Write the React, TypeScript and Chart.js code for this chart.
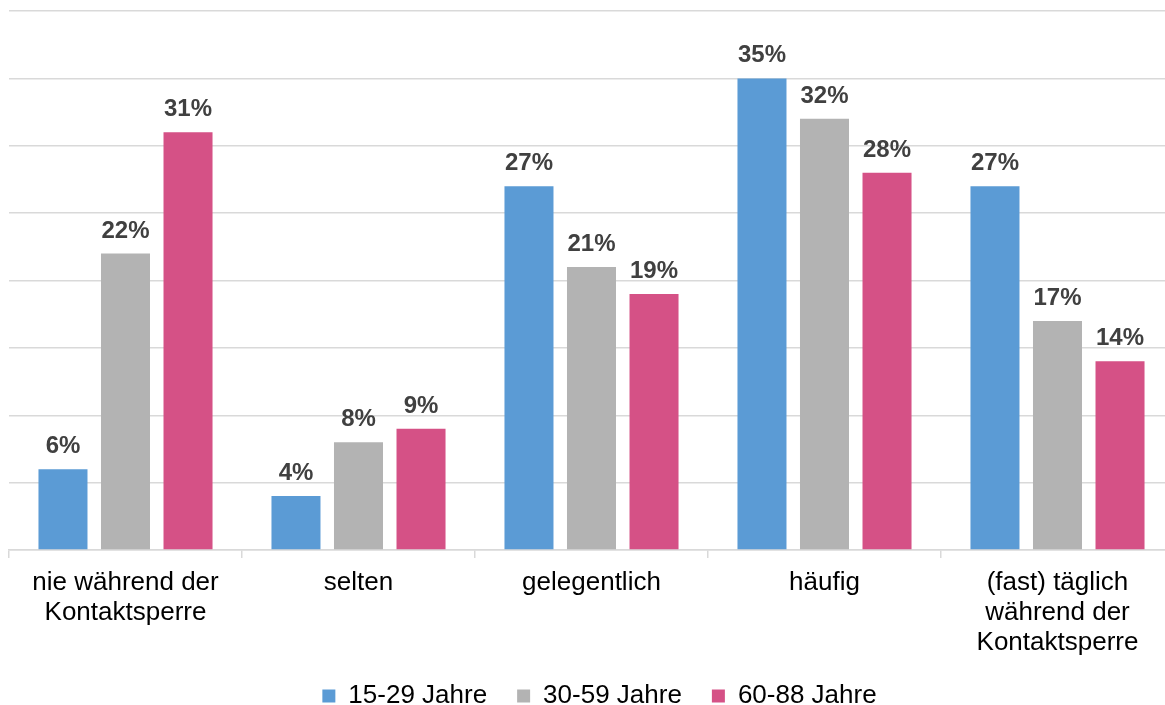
import React, { useEffect, useRef } from "react";
import { Chart, registerables } from "chart.js";

Chart.register(...registerables);

const categories: (string | string[])[] = [
  ["nie während der", "Kontaktsperre"],
  "selten",
  "gelegentlich",
  "häufig",
  ["(fast) täglich", "während der", "Kontaktsperre"],
];
const seriesNames = ["15-29 Jahre", "30-59 Jahre", "60-88 Jahre"];
const young = [6, 4, 27, 35, 27];
const middle = [22, 8, 21, 32, 17];
const old = [31, 9, 19, 28, 14];
const seriesColors = ["#5b9bd5", "#b3b3b3", "#d55186"];
const yMax = 40;
const yStep = 5;

const FONT = "'Liberation Sans', Arial, sans-serif";

const valueLabels = {
  id: "valueLabels",
  afterDatasetsDraw(chart: any) {
    const ctx = chart.ctx;
    ctx.save();
    ctx.font = `bold 24px ${FONT}`;
    ctx.fillStyle = "#404040";
    ctx.textAlign = "center";
    ctx.textBaseline = "alphabetic";
    chart.data.datasets.forEach((ds: any, di: number) => {
      const meta = chart.getDatasetMeta(di);
      meta.data.forEach((el: any, i: number) => {
        ctx.fillText(`${ds.data[i]}%`, el.x, el.y - 16);
      });
    });
    ctx.restore();
  },
};

export default function App() {
  const ref = useRef<HTMLCanvasElement>(null);
  useEffect(() => {
    if (!ref.current) return;
    const data = [young, middle, old];
    const chart = new Chart(ref.current, {
      type: "bar",
      data: {
        labels: categories,
        datasets: seriesNames.map((name, i) => ({
          label: name,
          data: data[i],
          backgroundColor: seriesColors[i],
          borderWidth: 0,
          categoryPercentage: 0.805,
          barPercentage: 0.784,
        })),
      },
      options: {
        animation: false,
        responsive: false,
        devicePixelRatio: 1,
        layout: { padding: { left: 9, top: 11, right: 0, bottom: 0 } },
        plugins: {
          tooltip: { enabled: false },
          legend: {
            position: "bottom",
            labels: {
              boxWidth: 13,
              boxHeight: 13,
              padding: 30,
              color: "#000",
              font: { family: FONT, size: 26 },
            },
          },
        },
        scales: {
          x: {
            grid: {
              display: true,
              drawOnChartArea: false,
              drawTicks: true,
              tickLength: 8,
              color: "#d9d9d9",
              lineWidth: 1.5,
              offset: true,
            },
            border: { display: true, color: "#d9d9d9", width: 1.5 },
            ticks: {
              color: "#000",
              padding: 10,
              maxRotation: 0,
              autoSkip: false,
              font: { family: FONT, size: 26, lineHeight: 1.15 },
            },
            afterFit: (s: any) => {
              s.height = 103;
              // let the three-line label's descenders draw past the axis box
              s._computeLabelArea = () => undefined;
            },
          },
          y: {
            position: "right",
            min: 0,
            max: yMax,
            ticks: { display: false, stepSize: yStep },
            border: { display: false },
            grid: { color: "#d9d9d9", lineWidth: 1.5, drawTicks: false },
            afterFit: (s: any) => {
              s.width = 16;
            },
          },
        },
      },
      plugins: [valueLabels],
    });
    return () => chart.destroy();
  }, []);
  return (
    <div
      style={{
        position: "fixed",
        left: 0,
        top: 0,
        width: 1165,
        height: 705,
        overflow: "hidden",
        background: "#fff",
      }}
    >
      <canvas ref={ref} width={1190} height={719} style={{ display: "block" }} />
    </div>
  );
}
